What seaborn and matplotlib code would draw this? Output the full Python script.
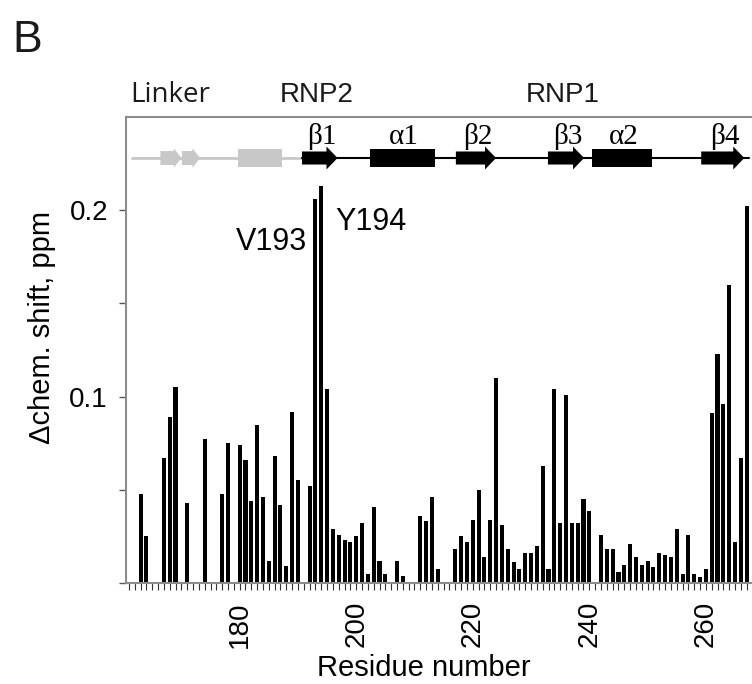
import matplotlib
matplotlib.use("Agg")
import matplotlib.pyplot as plt
from matplotlib.patches import FancyArrow, Rectangle
import pandas as pd
import seaborn as sns

# chemical shift perturbation per residue (ppm)
residues = [163, 164, 167, 168, 169, 171, 174, 177, 178, 180, 181, 182, 183,
            184, 185, 186, 187, 188, 189, 190, 192, 193, 194, 195, 196, 197,
            198, 199, 200, 201, 202, 203, 204, 205, 207, 208, 211, 212, 213,
            214, 217, 218, 219, 220, 221, 222, 223, 224, 225, 226, 227, 228,
            229, 230, 231, 232, 233, 234, 235, 236, 237, 238, 239, 240, 242,
            243, 244, 245, 246, 247, 248, 249, 250, 251, 252, 253, 254, 255,
            256, 257, 258, 259, 260, 261, 262, 263, 264, 265, 266, 267]
shifts = [0.048, 0.025, 0.067, 0.089, 0.105, 0.043, 0.077, 0.048, 0.075, 0.074,
          0.066, 0.044, 0.085, 0.046, 0.012, 0.068, 0.042, 0.009, 0.092, 0.055,
          0.052, 0.206, 0.213, 0.104, 0.029, 0.026, 0.023, 0.022, 0.025, 0.032,
          0.005, 0.041, 0.012, 0.005, 0.012, 0.004, 0.036, 0.033, 0.046, 0.0075,
          0.018, 0.025, 0.022, 0.034, 0.050, 0.014, 0.034, 0.110, 0.031, 0.018,
          0.011, 0.0075, 0.016, 0.016, 0.020, 0.063, 0.0075, 0.104, 0.032, 0.101,
          0.032, 0.032, 0.045, 0.0385, 0.026, 0.018, 0.018, 0.006, 0.0095, 0.021,
          0.014, 0.0095, 0.012, 0.0084, 0.016, 0.015, 0.014, 0.029, 0.005, 0.026,
          0.005, 0.003, 0.0075, 0.091, 0.123, 0.096, 0.160, 0.022, 0.067, 0.202]

# secondary structure (start, end, kind, label)
linker_elems = [(166.4, 170.0, "arrow"), (170.1, 173.2, "arrow"), (179.7, 187.3, "rect")]
domain_elems = [(190.7, 196.8, "arrow", "\u03b21"), (202.4, 213.5, "rect", "\u03b11"),
                (217.1, 224.0, "arrow", "\u03b22"), (232.9, 239.1, "arrow", "\u03b23"),
                (240.5, 250.8, "rect", "\u03b12"), (259.2, 266.6, "arrow", "\u03b24")]
regions = [("Linker", 161.2, "left"), ("RNP2", 193.3, "center"), ("RNP1", 235.4, "center")]
peaks = [("V193", 191.6, 0.1787, "right"), ("Y194", 196.4, 0.1895, "left")]

sns.set_style("ticks")
plt.rcParams["font.family"] = ["Liberation Sans", "DejaVu Sans"]
plt.rcParams["text.color"] = "black"
plt.rcParams["axes.labelcolor"] = "black"

df = pd.DataFrame({"residue": residues, "shift": shifts})

fig = plt.figure(figsize=(7.52, 6.84), dpi=100)
ax = fig.add_axes([126 / 752, 101 / 684, 633.5 / 752, 466 / 684])

sns.barplot(data=df, x="residue", y="shift", native_scale=True, color="black",
            saturation=1, width=0.7, linewidth=0, errorbar=None, ax=ax)

ax.set_xlim(160.5, 269.2)
ax.set_ylim(0, 0.25)

xt = list(range(161, 269))
ax.set_xticks(xt)
ax.set_xticklabels([str(t) if t % 20 == 0 else "" for t in xt], rotation=90, fontsize=20)
ax.set_yticks([0, 0.05, 0.1, 0.15, 0.2])
ax.set_yticklabels(["", "", "0.1", "", "0.2"], fontsize=20)
ax.tick_params(axis="x", direction="out", length=5, width=0.8, color="#333333",
               labelcolor="black", pad=8)
ax.tick_params(axis="y", direction="out", length=5, width=1.0, color="#555555",
               labelcolor="black", pad=8)

for s in ax.spines.values():
    s.set_color("#8c8c8c")
    s.set_linewidth(1.5)

ax.set_xlabel("Residue number", fontsize=21, va="center")
ax.xaxis.set_label_coords(0.47, -0.182)
ax.set_ylabel("\u0394chem. shift, ppm", fontsize=21, va="center")
ax.yaxis.set_label_coords(-0.1326, 0.548)

# secondary structure cartoon
yl = 0.228
gray = "#c8c8c8"
ax.plot([161.6, 190.7], [yl, yl], color=gray, lw=2, zorder=3)
ax.plot([190.7, 267.4], [yl, yl], color="black", lw=1.5, zorder=3)
for start, end, kind in linker_elems:
    if kind == "arrow":
        ax.add_patch(FancyArrow(start, yl, end - start, 0, width=0.0075, head_width=0.0105,
                                head_length=1.3, length_includes_head=True,
                                color=gray, lw=0, zorder=4))
    else:
        ax.add_patch(Rectangle((start, yl - 0.0047), end - start, 0.0094,
                               color=gray, lw=0, zorder=4))
for start, end, kind, lab in domain_elems:
    if kind == "arrow":
        ax.add_patch(FancyArrow(start, yl, end - start, 0, width=0.007, head_width=0.0123,
                                head_length=1.9, length_includes_head=True,
                                color="black", lw=0, zorder=4))
    else:
        ax.add_patch(Rectangle((start, yl - 0.0049), end - start, 0.0098,
                               color="black", lw=0, zorder=4))
    ax.text((start + end) / 2 + 0.3, 0.2355, lab, ha="center", va="baseline",
            fontsize=21, family=["Liberation Serif", "DejaVu Serif"])

for name, xpos, ha in regions:
    fam = ["Open Sans", "DejaVu Sans"] if name == "Linker" else ["Liberation Sans", "DejaVu Sans"]
    ax.text(xpos, 0.2583, name, ha=ha, va="baseline", fontsize=20, family=fam,
            clip_on=False, color="#1a1a1a")

for name, xpos, ypos, ha in peaks:
    ax.text(xpos, ypos, name, ha=ha, va="baseline", fontsize=22)

fig.text(12 / 752, 1 - 52 / 684, "B", fontsize=32, ha="left", va="baseline", color="#1a1a1a")

fig.savefig("out.png", dpi=100)
